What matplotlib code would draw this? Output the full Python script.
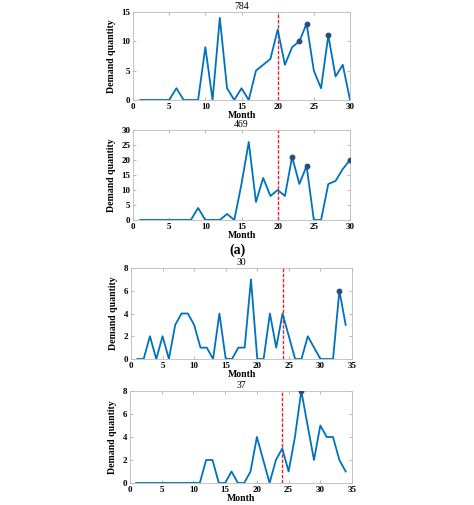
import matplotlib
matplotlib.use('Agg')
import matplotlib.pyplot as plt
import numpy as np

plt.rcParams['font.family'] = ['Liberation Serif', 'DejaVu Serif']

# item 784
m1 = np.arange(1, 31)
d1 = [0, 0, 0, 0, 0, 2, 0, 0, 0, 9, 0, 14, 2, 0, 2, 0, 5, 6, 7, 12,
      6, 9, 10, 13, 5, 2, 11, 4, 6, 0]
pk1 = [23, 24, 27]

# item 469
m2 = np.arange(1, 31)
d2 = [0, 0, 0, 0, 0, 0, 0, 0, 4, 0, 0, 0, 2, 0, 12, 26, 6, 14, 8, 10,
      8, 21, 12, 18, 0, 0, 12, 13, 17, 20]
pk2 = [22, 24, 30]

# item 30
m3 = np.arange(1, 35)
d3 = [0, 0, 2, 0, 2, 0, 3, 4, 4, 3, 1, 1, 0, 4, 0, 0, 1, 1, 7, 0,
      0, 4, 1, 4, 2, 0, 0, 2, 1, 0, 0, 0, 6, 3]
pk3 = [33]

# item 37
m4 = np.arange(1, 35)
d4 = [0, 0, 0, 0, 0, 0, 0, 0, 0, 0, 0, 2, 2, 0, 0, 1, 0, 0, 1, 4,
      2, 0, 2, 3, 1, 4, 8, 5, 2, 5, 4, 4, 2, 1]
pk4 = [27]

panels = [
    ('784', m1, d1, pk1, 20, 30, 15, [0.2806, 0.802, 0.4578, 0.1743]),
    ('469', m2, d2, pk2, 20, 30, 30, [0.2806, 0.5644, 0.4578, 0.1782]),
    ('30', m3, d3, pk3, 24, 35, 8, [0.2764, 0.2891, 0.4662, 0.1802]),
    ('37', m4, d4, pk4, 24, 35, 8, [0.2743, 0.0436, 0.4684, 0.1822]),
]

fig = plt.figure(figsize=(4.74, 5.05), dpi=100)

for name, m, d, pk, cut, xmax, ymax, pos in panels:
    ax = fig.add_axes(pos)
    ax.plot(m, d, color='#0072BD', lw=1.3, zorder=3)
    d = np.array(d)
    ax.plot(pk, d[np.array(pk) - 1], 'o', color='#2E4A7D', ms=3.2, zorder=4)
    ax.axvline(cut, color='#E8202A', ls=(0, (2.5, 1.2)), lw=1.0, zorder=2)
    ax.set_xlim(0, xmax)
    ax.set_ylim(0, ymax)
    ax.set_xticks(np.arange(0, xmax + 1, 5))
    if ymax == 15:
        ax.set_yticks([0, 5, 10, 15])
    elif ymax == 30:
        ax.set_yticks(np.arange(0, 31, 5))
    else:
        ax.set_yticks([0, 2, 4, 6, 8])
    ax.tick_params(direction='in', top=True, right=True, length=2.5,
                   width=0.5, color='#999999', labelsize=6.5, pad=2)
    for lab in ax.get_xticklabels() + ax.get_yticklabels():
        lab.set_fontweight('bold')
    for sp in ax.spines.values():
        sp.set_color('#bbbbbb')
        sp.set_linewidth(0.6)
    ax.set_title(name, fontsize=7, pad=2)
    ax.set_xlabel('Month', fontsize=7, fontweight='bold', labelpad=0)
    ax.set_ylabel('Demand quantity', fontsize=7, fontweight='bold', labelpad=4)

fig.text(0.5, 1 - 250 / 505, '(a)', fontsize=10, fontweight='bold',
         ha='center', va='center')

fig.savefig('out.png', dpi=100)
